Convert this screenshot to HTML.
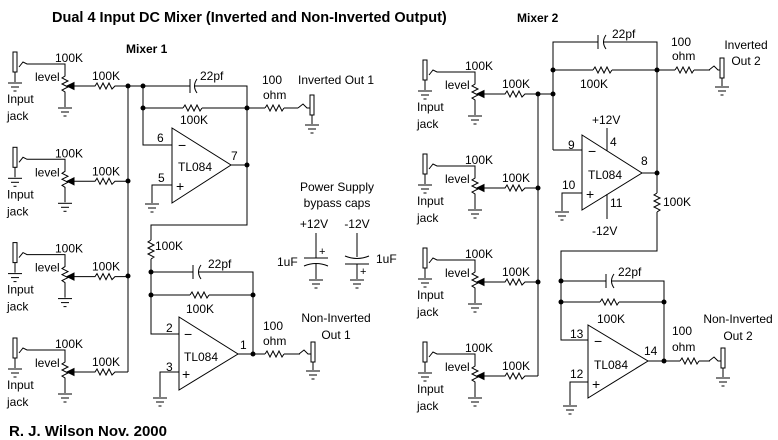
<!DOCTYPE html>
<html><head><meta charset="utf-8"><style>
body{margin:0;background:#fff}
svg{display:block}
text{font-family:"Liberation Sans",Arial,sans-serif;font-size:12px;fill:#000}
.b{font-weight:bold}
</style></head><body>
<svg width="778" height="440" viewBox="0 0 778 440" xmlns="http://www.w3.org/2000/svg">
<defs>
<g id="gnd" stroke="#000" stroke-width="1" fill="none">
<line x1="-7" y1="0" x2="7" y2="0"/><line x1="-4" y1="4" x2="4" y2="4"/><line x1="-1.5" y1="8" x2="1.5" y2="8"/>
</g>
<g id="stage" stroke="#000" stroke-width="1" fill="none">
<rect x="13" y="52" width="4" height="20" fill="#fff"/>
<line x1="15" y1="72" x2="15" y2="82"/>
<use href="#gnd" x="15" y="83"/>
<polyline points="19,67 23,62 27,64 65,64 65,76 62,78 68,81 62,84 68,87 62,90 65,92 65,107"/>
<use href="#gnd" x="65" y="108"/>
<polygon points="67,86 74,82.5 74,89.5" fill="#000"/>
<polyline points="74,86 95,86 97,83 100,89 103,83 106,89 109,83 112,89 115,86 128,86"/>
</g>
<g id="hres" fill="none" stroke="#000"><polyline points="0,0 2,-3 5,3 8,-3 11,3 14,-3 17,3 19,0"/></g>
<g id="vres" fill="none" stroke="#000"><polyline points="0,0 -3,2 3,5 -3,8 3,11 -3,14 3,17 0,19"/></g>
<g id="jack" fill="none" stroke="#000">
<polyline points="-12,0 -7,-4 -3,0 0,0"/>
</g>
<g id="dot"><circle r="2.5" fill="#000"/></g>
</defs>

<text x="52" y="22" class="b" style="font-size:14.5px">Dual 4 Input DC Mixer (Inverted and Non-Inverted Output)</text>
<text x="126" y="53" class="b">Mixer 1</text>
<text x="517" y="22" class="b">Mixer 2</text>
<text x="9" y="436" class="b" style="font-size:15px">R. J. Wilson Nov. 2000</text>

<use href="#stage" y="0"/><use href="#stage" y="95.3"/><use href="#stage" y="190.6"/><use href="#stage" y="286"/>
<g><text x="55" y="62">100K</text><text x="35" y="81">level</text><text x="7" y="103">Input</text><text x="7" y="120">jack</text><text x="92" y="80">100K</text></g>
<g transform="translate(0,95.3)"><text x="55" y="62">100K</text><text x="35" y="81">level</text><text x="7" y="103">Input</text><text x="7" y="120">jack</text><text x="92" y="80">100K</text></g>
<g transform="translate(0,190.6)"><text x="55" y="62">100K</text><text x="35" y="81">level</text><text x="7" y="103">Input</text><text x="7" y="120">jack</text><text x="92" y="80">100K</text></g>
<g transform="translate(0,286)"><text x="55" y="62">100K</text><text x="35" y="81">level</text><text x="7" y="103">Input</text><text x="7" y="120">jack</text><text x="92" y="80">100K</text></g>

<g stroke="#000" fill="none">
<line x1="128" y1="86" x2="128" y2="372"/>
<line x1="128" y1="86" x2="143" y2="86"/>
<polyline points="143,86 143,145 172,145"/>
<polyline points="143,86 190,86"/><line x1="190" y1="79" x2="190" y2="93"/><path d="M197,79 Q192,86 197,93"/>
<polyline points="194,86 247,86 247,225 151,225 151,240"/>
<line x1="143" y1="108" x2="183" y2="108"/><use href="#hres" x="183" y="108"/><line x1="202" y1="108" x2="247" y2="108"/>
<polygon points="172,128 172,203 231,165" fill="#fff"/>
<line x1="231" y1="165" x2="247" y2="165"/>
<polyline points="172,185 152,185 152,203"/><use href="#gnd" x="152" y="204"/>
<line x1="247" y1="108" x2="265" y2="108"/><use href="#hres" x="265" y="108"/><line x1="284" y1="108" x2="298" y2="108"/>
<use href="#jack" x="310" y="108"/>
<rect x="310" y="95" width="4" height="20" fill="#fff"/><line x1="312" y1="115" x2="312" y2="124"/><use href="#gnd" x="312" y="125"/>
<use href="#vres" x="151" y="240"/>
<polyline points="151,259 151,334 179,334"/>
<line x1="151" y1="272" x2="193" y2="272"/><line x1="193" y1="265" x2="193" y2="279"/><path d="M201,265 Q196,272 201,279"/>
<polyline points="198,272 253,272 253,354"/>
<line x1="151" y1="295" x2="190" y2="295"/><use href="#hres" x="190" y="295"/><line x1="209" y1="295" x2="253" y2="295"/>
<polygon points="179,317 179,390 238,354" fill="#fff"/>
<line x1="238" y1="354" x2="265" y2="354"/><use href="#hres" x="265" y="354"/><line x1="284" y1="354" x2="300" y2="354"/>
<use href="#jack" x="311" y="354"/>
<rect x="311" y="342" width="4" height="20" fill="#fff"/><line x1="313" y1="362" x2="313" y2="370"/><use href="#gnd" x="313" y="371"/>
<polyline points="179,372 160,372 160,397"/><use href="#gnd" x="160" y="398"/>
<line x1="316" y1="233" x2="316" y2="258"/><line x1="304" y1="258" x2="328" y2="258"/><path d="M304,266 Q316,261 328,266"/><line x1="316" y1="263" x2="316" y2="279"/><use href="#gnd" x="316" y="280"/>
<line x1="357" y1="233" x2="357" y2="257"/><path d="M345,256 Q357,261 369,256"/><line x1="345" y1="264" x2="369" y2="264"/><line x1="357" y1="264" x2="357" y2="279"/><use href="#gnd" x="357" y="280"/>
</g>
<g>
<use href="#dot" x="128" y="86"/><use href="#dot" x="143" y="86"/><use href="#dot" x="128" y="181"/><use href="#dot" x="128" y="276"/>
<use href="#dot" x="143" y="108"/><use href="#dot" x="247" y="108"/><use href="#dot" x="247" y="165"/>
<use href="#dot" x="151" y="272"/><use href="#dot" x="151" y="295"/><use href="#dot" x="253" y="295"/><use href="#dot" x="253" y="354"/>
</g>
<text x="178" y="150" style="font-size:14px">−</text><text x="176" y="191" style="font-size:14px">+</text>
<text x="157" y="142">6</text><text x="158" y="182">5</text><text x="178" y="171">TL084</text><text x="231" y="160">7</text>
<text x="200" y="80">22pf</text><text x="180" y="124">100K</text>
<text x="262" y="84">100</text><text x="263" y="99">ohm</text><text x="298" y="84">Inverted Out 1</text>
<text x="155" y="250">100K</text>
<text x="208" y="268">22pf</text><text x="186" y="313">100K</text>
<text x="184" y="339" style="font-size:14px">−</text><text x="182" y="379" style="font-size:14px">+</text>
<text x="166" y="332">2</text><text x="166" y="371">3</text><text x="184" y="361">TL084</text><text x="240" y="349">1</text>
<text x="263" y="330">100</text><text x="263" y="345">ohm</text>
<text x="336" y="322" text-anchor="middle">Non-Inverted</text><text x="336" y="339" text-anchor="middle">Out 1</text>
<text x="337" y="191" text-anchor="middle">Power Supply</text><text x="337" y="207" text-anchor="middle">bypass caps</text>
<text x="314" y="228" text-anchor="middle">+12V</text><text x="357" y="228" text-anchor="middle">-12V</text>
<text x="277" y="266">1uF</text><text x="376" y="263">1uF</text>
<text x="319" y="255" style="font-size:11px">+</text><text x="360" y="275" style="font-size:11px">+</text>

<use href="#stage" x="410" y="8"/><use href="#stage" x="410" y="102"/><use href="#stage" x="410" y="196"/><use href="#stage" x="410" y="290"/>
<g transform="translate(410,8)"><text x="55" y="62">100K</text><text x="35" y="81">level</text><text x="7" y="103">Input</text><text x="7" y="120">jack</text><text x="92" y="80">100K</text></g>
<g transform="translate(410,102)"><text x="55" y="62">100K</text><text x="35" y="81">level</text><text x="7" y="103">Input</text><text x="7" y="120">jack</text><text x="92" y="80">100K</text></g>
<g transform="translate(410,196)"><text x="55" y="62">100K</text><text x="35" y="81">level</text><text x="7" y="103">Input</text><text x="7" y="120">jack</text><text x="92" y="80">100K</text></g>
<g transform="translate(410,290)"><text x="55" y="62">100K</text><text x="35" y="81">level</text><text x="7" y="103">Input</text><text x="7" y="120">jack</text><text x="92" y="80">100K</text></g>

<g stroke="#000" fill="none">
<line x1="538" y1="94" x2="538" y2="376"/>
<line x1="538" y1="94" x2="553" y2="94"/>
<polyline points="553,150 553,42 598,42"/><line x1="598" y1="35" x2="598" y2="49"/><path d="M606,35 Q601,42 606,49"/>
<polyline points="603,42 657,42 657,193"/>
<use href="#vres" x="657" y="193"/>
<polyline points="657,212 657,251 561,251 561,340 588,340"/>
<line x1="553" y1="150" x2="582" y2="150"/>
<line x1="553" y1="70" x2="593" y2="70"/><use href="#hres" x="593" y="70"/><line x1="612" y1="70" x2="657" y2="70"/>
<polygon points="582,135 582,210 642,173" fill="#fff"/>
<line x1="642" y1="173" x2="657" y2="173"/>
<line x1="607" y1="128" x2="607" y2="151"/><line x1="607" y1="194" x2="607" y2="219"/>
<polyline points="582,193 562,193 562,211"/><use href="#gnd" x="562" y="212"/>
<line x1="657" y1="70" x2="675" y2="70"/><use href="#hres" x="675" y="70"/><line x1="694" y1="70" x2="710" y2="70"/>
<use href="#jack" x="721" y="70"/>
<rect x="720" y="58" width="4" height="20" fill="#fff"/><line x1="722" y1="78" x2="722" y2="86"/><use href="#gnd" x="722" y="87"/>
<line x1="561" y1="281" x2="606" y2="281"/><line x1="606" y1="274" x2="606" y2="288"/><path d="M614,274 Q609,281 614,288"/>
<polyline points="611,281 664,281 664,361"/>
<line x1="561" y1="302" x2="600" y2="302"/><use href="#hres" x="600" y="302"/><line x1="619" y1="302" x2="664" y2="302"/>
<polygon points="588,325 588,398 648,361" fill="#fff"/>
<line x1="648" y1="361" x2="680" y2="361"/><use href="#hres" x="680" y="361"/><line x1="699" y1="361" x2="710" y2="361"/>
<use href="#jack" x="721" y="361"/>
<rect x="721" y="348" width="4" height="20" fill="#fff"/><line x1="723" y1="368" x2="723" y2="377"/><use href="#gnd" x="723" y="378"/>
<polyline points="588,382 570,382 570,405"/><use href="#gnd" x="570" y="406"/>
</g>
<g>
<use href="#dot" x="538" y="94"/><use href="#dot" x="553" y="94"/><use href="#dot" x="538" y="188"/><use href="#dot" x="538" y="282"/>
<use href="#dot" x="553" y="70"/><use href="#dot" x="657" y="70"/><use href="#dot" x="657" y="173"/>
<use href="#dot" x="561" y="281"/><use href="#dot" x="561" y="302"/><use href="#dot" x="664" y="302"/><use href="#dot" x="664" y="361"/>
</g>
<text x="612" y="38">22pf</text><text x="580" y="88">100K</text>
<text x="671" y="46">100</text><text x="672" y="60">ohm</text>
<text x="746" y="49" text-anchor="middle">Inverted</text><text x="746" y="65" text-anchor="middle">Out 2</text>
<text x="592" y="124">+12V</text><text x="610" y="146">4</text><text x="610" y="207">11</text><text x="592" y="235">-12V</text>
<text x="568" y="149">9</text><text x="562" y="189">10</text><text x="588" y="179">TL084</text><text x="641" y="165">8</text>
<text x="588" y="156" style="font-size:14px">−</text><text x="586" y="199" style="font-size:14px">+</text>
<text x="663" y="206">100K</text>
<text x="618" y="276">22pf</text><text x="597" y="323">100K</text>
<text x="570" y="338">13</text><text x="570" y="378">12</text><text x="594" y="369">TL084</text><text x="644" y="355">14</text>
<text x="594" y="346" style="font-size:14px">−</text><text x="592" y="389" style="font-size:14px">+</text>
<text x="672" y="335">100</text><text x="672" y="351">ohm</text>
<text x="738" y="323" text-anchor="middle">Non-Inverted</text><text x="738" y="340" text-anchor="middle">Out 2</text>
</svg>
</body></html>
